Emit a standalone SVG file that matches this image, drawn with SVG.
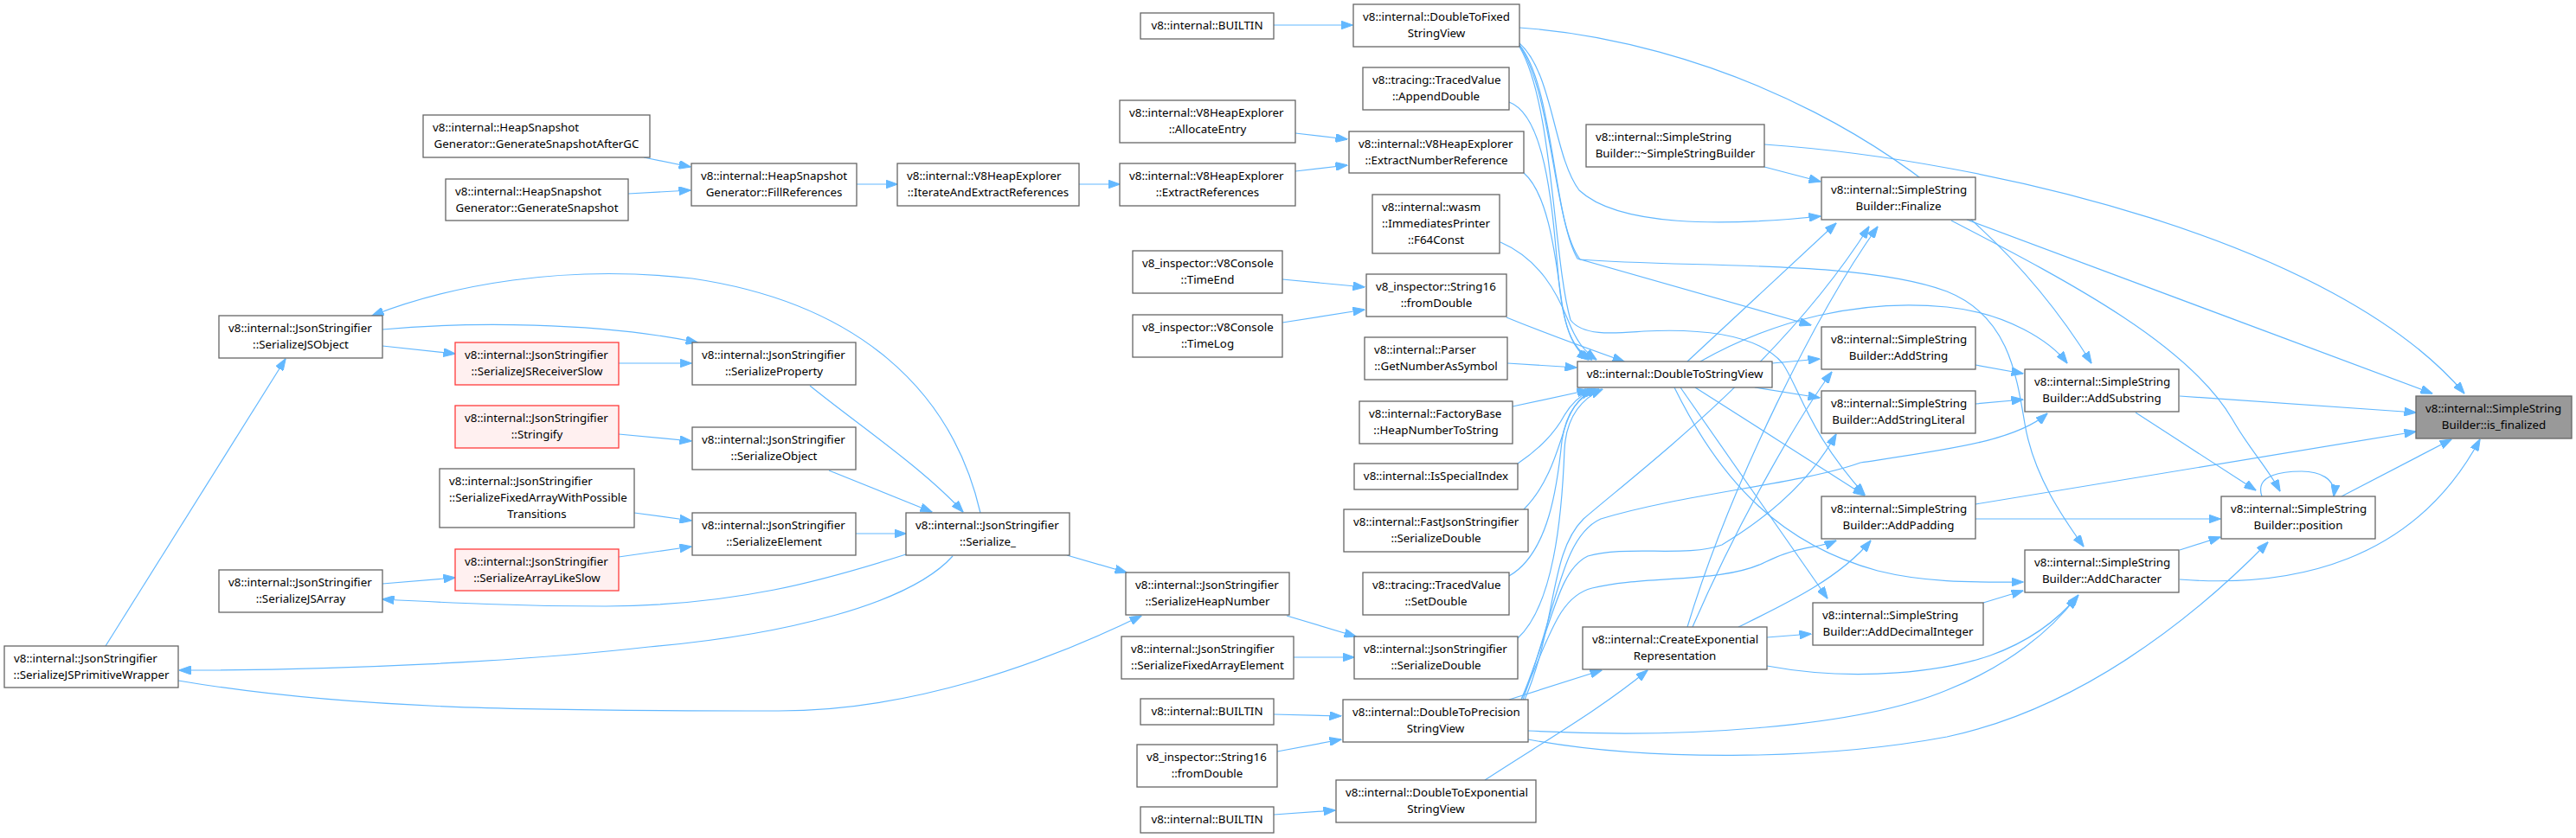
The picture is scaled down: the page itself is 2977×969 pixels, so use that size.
<svg xmlns="http://www.w3.org/2000/svg" width="2977" height="969" viewBox="0 0 2977 969">
<style>
.n rect{fill:#ffffff;stroke:#666666;stroke-width:1.3}
.r rect{fill:#fff0f0;stroke:#ff3b3b;stroke-width:1.3}
.f rect{fill:#999999;stroke:#666666;stroke-width:1.3}
text{font-family:"Noto Sans","Open Sans",sans-serif;font-size:13.33px;fill:#000000}
.c{text-anchor:middle}
#edges path{fill:none;stroke:#63b8ff;stroke-width:1.2;marker-end:url(#ah)}
</style>
<defs>
<marker id="ah" viewBox="0 0 14 10" markerWidth="14" markerHeight="10" refX="13.5" refY="5" orient="auto" markerUnits="userSpaceOnUse">
<path d="M0,0 L14,5 L0,10 z" fill="#63b8ff" stroke="#63b8ff" stroke-width="1"/>
</marker>
</defs>
<rect width="2977" height="969" fill="#ffffff"/>
<g id="edges">
<path d="M442,400 L526,409"/>
<path d="M715,420 L799,420"/>
<path d="M442,381 C540,372 690,372 806,396"/>
<path d="M1133,593 C1100,450 990,350 800,322 C650,305 520,330 430,365"/>
<path d="M936,446 C990,490 1065,540 1113,592"/>
<path d="M958,544 L1077,592"/>
<path d="M715,502 L799,510"/>
<path d="M733,593 L799,602"/>
<path d="M715,644 L799,632"/>
<path d="M989,617 L1047,617"/>
<path d="M442,675 L526,668"/>
<path d="M1047,641 C950,672 850,700 700,701 C600,701 520,697 442,693"/>
<path d="M1101,643 C1050,700 900,735 750,748 C600,765 400,775 207,775"/>
<path d="M122,747 L330,415"/>
<path d="M206,787 C400,820 600,822 900,822 C1050,822 1200,770 1319,712"/>
<path d="M1233,642 L1302,662"/>
<path d="M1487,712 L1567,736"/>
<path d="M1495,760 L1565,760"/>
<path d="M744,182 L798,193"/>
<path d="M726,224 L798,220"/>
<path d="M990,213 L1037,213"/>
<path d="M1247,213 L1294,213"/>
<path d="M1497,198 L1557,191"/>
<path d="M1497,154 L1557,161"/>
<path d="M1472,29 L1563,29"/>
<path d="M1482,323 L1577,332"/>
<path d="M1482,373 L1577,358"/>
<path d="M1472,826 L1550,828"/>
<path d="M1476,869 L1550,855"/>
<path d="M1472,942 L1543,937"/>
<path d="M1744,118 C1790,135 1795,260 1802,330 C1808,385 1820,405 1836,416"/>
<path d="M1761,200 C1790,225 1798,300 1805,350 C1812,395 1825,408 1840,416"/>
<path d="M1734,280 C1780,300 1800,340 1812,370 C1822,395 1830,405 1845,416"/>
<path d="M1741,367 C1780,383 1840,405 1877,418"/>
<path d="M1742,420 L1822,425"/>
<path d="M1748,470 L1836,451"/>
<path d="M1754,536 C1785,515 1800,495 1808,480 C1815,468 1825,458 1840,450"/>
<path d="M1761,589 C1790,560 1800,520 1810,490 C1818,468 1830,455 1844,450"/>
<path d="M1744,666 C1790,640 1800,560 1805,510 C1810,475 1825,458 1848,450"/>
<path d="M1754,738 C1795,700 1805,600 1808,520 C1810,480 1830,460 1852,450"/>
<path d="M1756,32 C1950,45 2250,150 2417,420"/>
<path d="M1756,50 C1795,85 1795,180 1825,220 C1870,262 1990,262 2104,250"/>
<path d="M1756,52 C1795,100 1795,250 1823,299 L2093,376"/>
<path d="M1756,53 C1795,110 1795,260 1826,300 C1950,310 2150,300 2250,337 C2320,365 2330,430 2340,490 C2350,550 2385,600 2408,632"/>
<path d="M1756,54 C1795,120 1795,300 1815,370 C1830,390 1870,385 1900,383 C1960,380 2030,385 2060,420 C2080,450 2090,500 2155,572"/>
<path d="M2048,420 L2103,415"/>
<path d="M2028,448 L2103,460"/>
<path d="M1950,418 L2122,258"/>
<path d="M1965,418 C2050,370 2150,345 2250,355 C2320,362 2370,395 2389,420"/>
<path d="M1959,448 L2155,573"/>
<path d="M1942,448 L2112,692"/>
<path d="M1935,448 C1990,560 2060,630 2170,660 C2230,675 2290,673 2338,673"/>
<path d="M2042,737 L2093,733"/>
<path d="M2009,725 C2060,700 2125,670 2162,625"/>
<path d="M2042,770 C2150,790 2250,775 2300,758 C2350,740 2380,715 2402,688"/>
<path d="M1950,725 C2000,560 2100,360 2170,262"/>
<path d="M1956,725 C2010,600 2080,480 2117,430"/>
<path d="M1744,809 L1851,775"/>
<path d="M1716,902 C1780,860 1850,820 1904,775"/>
<path d="M1766,845 C1950,855 2150,840 2250,798 C2320,770 2370,730 2400,690"/>
<path d="M1766,855 C1900,880 2100,880 2250,852 C2400,820 2530,720 2621,627"/>
<path d="M1758,809 C1790,740 1800,690 1840,680 C1900,665 1990,675 2040,650 C2080,630 2100,635 2122,625"/>
<path d="M1758,809 C1795,720 1800,660 1835,643 C1880,630 1950,645 1990,630 C2040,600 2090,560 2122,502"/>
<path d="M1760,809 C1800,700 1805,620 1850,600 C1950,570 2080,560 2150,535 C2250,520 2330,510 2366,478"/>
<path d="M1762,809 C1800,720 1790,640 1830,600 C1900,540 2060,420 2160,262"/>
<path d="M2039,193 L2104,210"/>
<path d="M2039,167 C2300,185 2700,280 2848,455"/>
<path d="M2273,254 L2811,455"/>
<path d="M2255,255 C2400,330 2530,400 2580,485 C2600,520 2620,540 2635,568"/>
<path d="M2283,422 L2338,432"/>
<path d="M2283,467 L2338,462"/>
<path d="M2519,458 L2792,477"/>
<path d="M2283,583 L2792,499"/>
<path d="M2283,600 L2566,600"/>
<path d="M2468,477 L2607,567"/>
<path d="M2292,697 L2338,683"/>
<path d="M2519,636 L2566,621"/>
<path d="M2519,670 C2650,680 2790,650 2866,508"/>
<path d="M2706,574 L2833,508"/>
<path d="M2614,574 C2605,548 2640,545 2660,545 C2680,545 2700,553 2697,574"/>
</g>
<g id="n_gsagc" class="n"><rect x="489" y="133" width="262" height="49"/><text x="500" y="152">v8::internal::HeapSnapshot</text><text class="c" x="620" y="171">Generator::GenerateSnapshotAfterGC</text></g>
<g id="n_gs" class="n"><rect x="515" y="207" width="211" height="48"/><text x="526" y="226">v8::internal::HeapSnapshot</text><text class="c" x="620.5" y="245">Generator::GenerateSnapshot</text></g>
<g id="n_fill" class="n"><rect x="799" y="189" width="191" height="49"/><text x="810" y="208">v8::internal::HeapSnapshot</text><text class="c" x="894.5" y="227">Generator::FillReferences</text></g>
<g id="n_iter" class="n"><rect x="1037" y="189" width="210" height="49"/><text x="1048" y="208">v8::internal::V8HeapExplorer</text><text class="c" x="1142" y="227">::IterateAndExtractReferences</text></g>
<g id="n_extref" class="n"><rect x="1294" y="189" width="203" height="49"/><text x="1305" y="208">v8::internal::V8HeapExplorer</text><text class="c" x="1395.5" y="227">::ExtractReferences</text></g>
<g id="n_alloc" class="n"><rect x="1294" y="116" width="203" height="49"/><text x="1305" y="135">v8::internal::V8HeapExplorer</text><text class="c" x="1395.5" y="154">::AllocateEntry</text></g>
<g id="n_builtin1" class="n"><rect x="1318" y="15" width="154" height="30"/><text class="c" x="1395" y="34">v8::internal::BUILTIN</text></g>
<g id="n_timeend" class="n"><rect x="1309" y="290" width="173" height="49"/><text x="1320" y="309">v8_inspector::V8Console</text><text class="c" x="1395.5" y="328">::TimeEnd</text></g>
<g id="n_timelog" class="n"><rect x="1309" y="364" width="173" height="49"/><text x="1320" y="383">v8_inspector::V8Console</text><text class="c" x="1395.5" y="402">::TimeLog</text></g>
<g id="n_jsobj" class="n"><rect x="253" y="365" width="189" height="49"/><text x="264" y="384">v8::internal::JsonStringifier</text><text class="c" x="347.5" y="403">::SerializeJSObject</text></g>
<g id="n_recv" class="r"><rect x="526" y="396" width="189" height="49"/><text x="537" y="415">v8::internal::JsonStringifier</text><text class="c" x="620.5" y="434">::SerializeJSReceiverSlow</text></g>
<g id="n_prop" class="n"><rect x="800" y="396" width="189" height="49"/><text x="811" y="415">v8::internal::JsonStringifier</text><text class="c" x="894.5" y="434">::SerializeProperty</text></g>
<g id="n_stringify" class="r"><rect x="526" y="469" width="189" height="49"/><text x="537" y="488">v8::internal::JsonStringifier</text><text class="c" x="620.5" y="507">::Stringify</text></g>
<g id="n_fawpt" class="n"><rect x="508" y="542" width="225" height="68"/><text x="519" y="561">v8::internal::JsonStringifier</text><text x="519" y="580">::SerializeFixedArrayWithPossible</text><text class="c" x="620.5" y="599">Transitions</text></g>
<g id="n_als" class="r"><rect x="526" y="635" width="189" height="48"/><text x="537" y="654">v8::internal::JsonStringifier</text><text class="c" x="620.5" y="673">::SerializeArrayLikeSlow</text></g>
<g id="n_jsarr" class="n"><rect x="253" y="659" width="189" height="49"/><text x="264" y="678">v8::internal::JsonStringifier</text><text class="c" x="347.5" y="697">::SerializeJSArray</text></g>
<g id="n_prim" class="n"><rect x="5" y="747" width="201" height="48"/><text x="16" y="766">v8::internal::JsonStringifier</text><text class="c" x="105.5" y="785">::SerializeJSPrimitiveWrapper</text></g>
<g id="n_obj" class="n"><rect x="800" y="494" width="189" height="49"/><text x="811" y="513">v8::internal::JsonStringifier</text><text class="c" x="894.5" y="532">::SerializeObject</text></g>
<g id="n_elem" class="n"><rect x="800" y="593" width="189" height="49"/><text x="811" y="612">v8::internal::JsonStringifier</text><text class="c" x="894.5" y="631">::SerializeElement</text></g>
<g id="n_ser" class="n"><rect x="1047" y="593" width="189" height="49"/><text x="1058" y="612">v8::internal::JsonStringifier</text><text class="c" x="1141.5" y="631">::Serialize_</text></g>
<g id="n_heapnum" class="n"><rect x="1301" y="662" width="189" height="49"/><text x="1312" y="681">v8::internal::JsonStringifier</text><text class="c" x="1395.5" y="700">::SerializeHeapNumber</text></g>
<g id="n_fae" class="n"><rect x="1296" y="736" width="199" height="49"/><text x="1307" y="755">v8::internal::JsonStringifier</text><text class="c" x="1395.5" y="774">::SerializeFixedArrayElement</text></g>
<g id="n_builtin2" class="n"><rect x="1318" y="808" width="154" height="30"/><text class="c" x="1395" y="827">v8::internal::BUILTIN</text></g>
<g id="n_s16b" class="n"><rect x="1314" y="861" width="162" height="49"/><text x="1325" y="880">v8_inspector::String16</text><text class="c" x="1395" y="899">::fromDouble</text></g>
<g id="n_builtin3" class="n"><rect x="1318" y="933" width="154" height="30"/><text class="c" x="1395" y="952">v8::internal::BUILTIN</text></g>
<g id="n_dtf" class="n"><rect x="1564" y="5" width="192" height="49"/><text x="1575" y="24">v8::internal::DoubleToFixed</text><text class="c" x="1660" y="43">StringView</text></g>
<g id="n_append" class="n"><rect x="1575" y="78" width="169" height="49"/><text x="1586" y="97">v8::tracing::TracedValue</text><text class="c" x="1659.5" y="116">::AppendDouble</text></g>
<g id="n_enr" class="n"><rect x="1559" y="152" width="202" height="48"/><text x="1570" y="171">v8::internal::V8HeapExplorer</text><text class="c" x="1660" y="190">::ExtractNumberReference</text></g>
<g id="n_f64" class="n"><rect x="1586" y="225" width="147" height="68"/><text x="1597" y="244">v8::internal::wasm</text><text x="1597" y="263">::ImmediatesPrinter</text><text class="c" x="1659.5" y="282">::F64Const</text></g>
<g id="n_s16a" class="n"><rect x="1579" y="317" width="162" height="49"/><text x="1590" y="336">v8_inspector::String16</text><text class="c" x="1660" y="355">::fromDouble</text></g>
<g id="n_parser" class="n"><rect x="1577" y="390" width="165" height="49"/><text x="1588" y="409">v8::internal::Parser</text><text class="c" x="1659.5" y="428">::GetNumberAsSymbol</text></g>
<g id="n_factory" class="n"><rect x="1571" y="464" width="177" height="49"/><text x="1582" y="483">v8::internal::FactoryBase</text><text class="c" x="1659.5" y="502">::HeapNumberToString</text></g>
<g id="n_isspecial" class="n"><rect x="1565" y="536" width="189" height="30"/><text class="c" x="1659.5" y="555">v8::internal::IsSpecialIndex</text></g>
<g id="n_fastjson" class="n"><rect x="1553" y="589" width="213" height="49"/><text x="1564" y="608">v8::internal::FastJsonStringifier</text><text class="c" x="1659.5" y="627">::SerializeDouble</text></g>
<g id="n_setdouble" class="n"><rect x="1575" y="662" width="169" height="49"/><text x="1586" y="681">v8::tracing::TracedValue</text><text class="c" x="1659.5" y="700">::SetDouble</text></g>
<g id="n_jsondouble" class="n"><rect x="1565" y="736" width="189" height="49"/><text x="1576" y="755">v8::internal::JsonStringifier</text><text class="c" x="1659.5" y="774">::SerializeDouble</text></g>
<g id="n_dtp" class="n"><rect x="1552" y="809" width="214" height="49"/><text x="1563" y="828">v8::internal::DoubleToPrecision</text><text class="c" x="1659" y="847">StringView</text></g>
<g id="n_dte" class="n"><rect x="1544" y="902" width="231" height="49"/><text x="1555" y="921">v8::internal::DoubleToExponential</text><text class="c" x="1659.5" y="940">StringView</text></g>
<g id="n_dst" class="n"><rect x="1823" y="418" width="225" height="30"/><text class="c" x="1935.5" y="437">v8::internal::DoubleToStringView</text></g>
<g id="n_dtor" class="n"><rect x="1833" y="144" width="206" height="49"/><text x="1844" y="163">v8::internal::SimpleString</text><text class="c" x="1936" y="182">Builder::~SimpleStringBuilder</text></g>
<g id="n_cer" class="n"><rect x="1829" y="725" width="213" height="49"/><text x="1840" y="744">v8::internal::CreateExponential</text><text class="c" x="1935.5" y="763">Representation</text></g>
<g id="n_finalize" class="n"><rect x="2105" y="205" width="178" height="49"/><text x="2116" y="224">v8::internal::SimpleString</text><text class="c" x="2194" y="243">Builder::Finalize</text></g>
<g id="n_addstring" class="n"><rect x="2105" y="378" width="178" height="49"/><text x="2116" y="397">v8::internal::SimpleString</text><text class="c" x="2194" y="416">Builder::AddString</text></g>
<g id="n_addlit" class="n"><rect x="2105" y="452" width="178" height="49"/><text x="2116" y="471">v8::internal::SimpleString</text><text class="c" x="2194" y="490">Builder::AddStringLiteral</text></g>
<g id="n_addpad" class="n"><rect x="2105" y="574" width="178" height="49"/><text x="2116" y="593">v8::internal::SimpleString</text><text class="c" x="2194" y="612">Builder::AddPadding</text></g>
<g id="n_adddec" class="n"><rect x="2095" y="697" width="197" height="49"/><text x="2106" y="716">v8::internal::SimpleString</text><text class="c" x="2193.5" y="735">Builder::AddDecimalInteger</text></g>
<g id="n_addsub" class="n"><rect x="2340" y="427" width="178" height="49"/><text x="2351" y="446">v8::internal::SimpleString</text><text class="c" x="2429" y="465">Builder::AddSubstring</text></g>
<g id="n_addchar" class="n"><rect x="2340" y="636" width="178" height="49"/><text x="2351" y="655">v8::internal::SimpleString</text><text class="c" x="2429" y="674">Builder::AddCharacter</text></g>
<g id="n_pos" class="n"><rect x="2567" y="574" width="178" height="49"/><text x="2578" y="593">v8::internal::SimpleString</text><text class="c" x="2656" y="612">Builder::position</text></g>
<g id="n_isfin" class="f"><rect x="2792" y="458" width="180" height="49"/><text x="2803" y="477">v8::internal::SimpleString</text><text class="c" x="2882" y="496">Builder::is_finalized</text></g>
</svg>
